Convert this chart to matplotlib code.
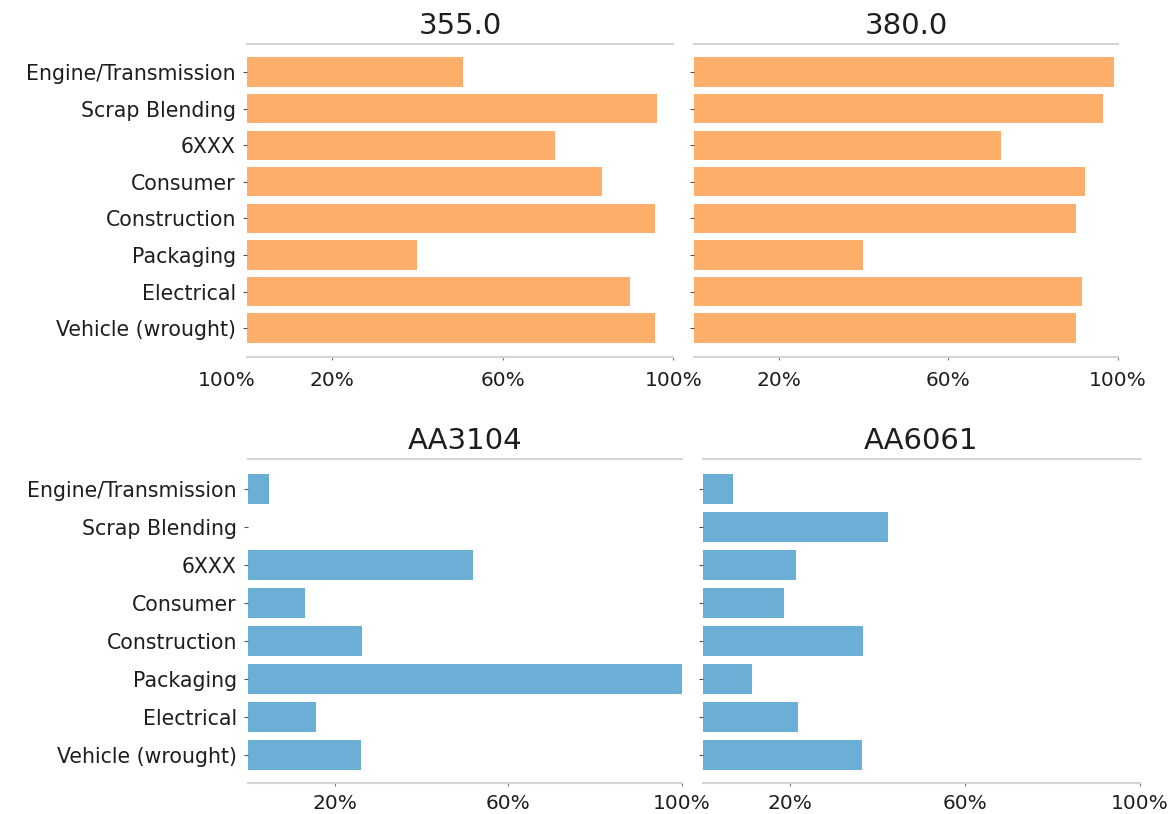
import numpy as np
import matplotlib
matplotlib.use("Agg")
import matplotlib.pyplot as plt

# Share of each scrap source that can go into the alloy (%)
categories = ["Engine/Transmission", "Scrap Blending", "6XXX", "Consumer",
              "Construction", "Packaging", "Electrical", "Vehicle (wrought)"]

alloy_355 = [50.7, 96.2, 72.3, 83.3, 95.8, 39.9, 89.9, 95.8]
alloy_380 = [99.0, 96.5, 72.4, 92.2, 90.1, 39.9, 91.5, 90.1]
alloy_3104 = [4.8, 0.0, 51.8, 13.1, 26.3, 100.0, 15.7, 26.0]
alloy_6061 = [6.9, 42.3, 21.3, 18.5, 36.6, 11.2, 21.7, 36.4]

titles = ["355.0", "380.0", "AA3104", "AA6061"]
tick_vals = [20, 60, 100]
tick_labels = ["20%", "60%", "100%"]

orange = "#FDAE6B"
blue = "#6BAED6"
spine_col = "#d4d4d4"

fig = plt.figure(figsize=(11.71, 8.14), dpi=100)

# axes boxes: [left, bottom, width, height]
boxes = [
    [0.211, 0.5614, 0.364, 0.3845],
    [0.5926, 0.5614, 0.362, 0.3845],
    [0.2118, 0.0381, 0.3706, 0.398],
    [0.6003, 0.0381, 0.3732, 0.398],
]
series = [alloy_355, alloy_380, alloy_3104, alloy_6061]
colors = [orange, orange, blue, blue]

y = np.arange(len(categories))

for i, (box, vals, col, title) in enumerate(zip(boxes, series, colors, titles)):
    ax = fig.add_axes(box)
    ax.barh(y, vals, height=0.8, color=col)

    ax.set_xlim(0, 100)
    if i < 2:
        ax.set_ylim(7.79, -0.765)
    else:
        ax.set_ylim(7.74, -0.79)

    ax.set_yticks(y)
    if i % 2 == 0:
        ax.set_yticklabels(categories, fontsize=14.8, color="#1e1e1e")
    else:
        ax.set_yticklabels([])

    ax.set_xticks(tick_vals)
    ax.set_xticklabels(tick_labels, fontsize=14.5, color="#1e1e1e")

    ax.tick_params(axis="y", length=3, width=0.8, color="#555555", pad=5)
    ax.tick_params(axis="x", length=2, width=0.8, color="#777777",
                   pad=8 if i < 2 else 6)

    for side in ["left", "right"]:
        ax.spines[side].set_visible(False)
    for side in ["top", "bottom"]:
        ax.spines[side].set_color(spine_col)
        ax.spines[side].set_linewidth(1.5)

    ax.set_title(title, fontsize=21, pad=7, color="#1e1e1e")

# stray axis label left of the first panel
fig.text(227 / 1171, 1 - 380 / 814, "100%", fontsize=14.5, color="#1e1e1e",
         ha="center", va="center")

fig.savefig("out.png", dpi=100)
